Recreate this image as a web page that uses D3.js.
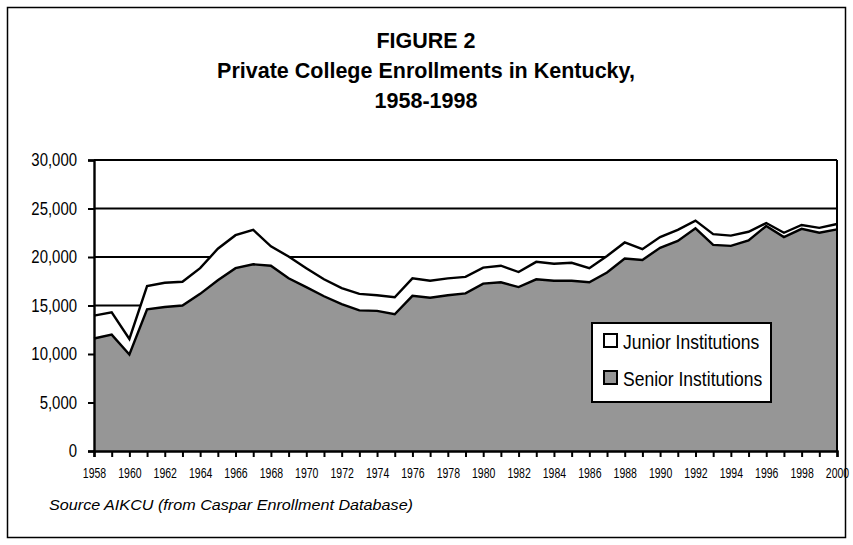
<!DOCTYPE html>
<html>
<head>
<meta charset="utf-8">
<script src="https://cdn.jsdelivr.net/npm/d3@7/dist/d3.min.js"></script>
<style>
  body { margin: 0; background: #ffffff; }
  svg text { fill: #000; }
</style>
</head>
<body>
<script>
// enrollment data
var years = [1958,1959,1960,1961,1962,1963,1964,1965,1966,1967,1968,1969,1970,1971,
             1972,1973,1974,1975,1976,1977,1978,1979,1980,1981,1982,1983,1984,1985,
             1986,1987,1988,1989,1990,1991,1992,1993,1994,1995,1996,1997,1998,1999,2000];
var senior = [11600,12000,9950,14600,14850,15000,16200,17600,18850,19250,19100,17800,16900,15950,
              15150,14500,14450,14100,16000,15800,16050,16250,17250,17400,16900,17700,17550,17550,
              17400,18400,19850,19700,20950,21650,22950,21250,21150,21700,23200,22050,22900,22500,22850];
var junior = [2350,2300,1600,2400,2500,2450,2650,3250,3400,3550,2000,2250,1950,1750,
              1650,1700,1600,1750,1800,1750,1750,1700,1650,1700,1550,1800,1750,1850,
              1450,1700,1650,1100,1100,1150,800,1100,1050,900,300,450,400,500,550];
var yTicks = [0,5000,10000,15000,20000,25000,30000];
var xLabels = [1958,1960,1962,1964,1966,1968,1970,1972,1974,1976,1978,1980,1982,1984,
               1986,1988,1990,1992,1994,1996,1998,2000];
var titleLines = ["FIGURE 2", "Private College Enrollments in Kentucky,", "1958-1998"];
var legendItems = [{label: "Junior Institutions", fill: "#ffffff"},
                   {label: "Senior Institutions", fill: "#969696"}];

var W = 853, H = 545;
var margin = {top: 160, right: 16, bottom: 94, left: 94};
var width = W - margin.left - margin.right,
    height = H - margin.top - margin.bottom;

var sans = "'Liberation Sans', Arial, sans-serif";

var rows = years.map(function(y, i) {
  return {year: y, senior: senior[i], junior: junior[i]};
});

var svg = d3.select("body").append("svg")
    .attr("width", W)
    .attr("height", H)
    .style("font-family", sans);

// outer frame
svg.append("rect")
    .attr("x", 7.5).attr("y", 7.5)
    .attr("width", W - 15).attr("height", H - 15)
    .style("fill", "none")
    .style("stroke", "#000")
    .style("stroke-width", 1.5);

// title
svg.append("g").selectAll("text")
    .data(titleLines)
  .enter().append("text")
    .attr("x", 426)
    .attr("y", function(d, i) { return 48 + i * 30; })
    .attr("text-anchor", "middle")
    .style("font-weight", "bold")
    .style("font-size", "21.5px")
    .text(function(d) { return d; });

var g = svg.append("g")
    .attr("transform", "translate(" + margin.left + "," + margin.top + ")");

var x = d3.scaleLinear().domain([1958, 2000]).range([0, width]);
var y = d3.scaleLinear().domain([0, 30000]).range([height, 0]);

// gridlines
g.selectAll(".grid")
    .data(yTicks.filter(function(d) { return d > 0; }))
  .enter().append("line")
    .attr("class", "grid")
    .attr("x1", 0).attr("x2", width)
    .attr("y1", function(d) { return y(d); })
    .attr("y2", function(d) { return y(d); })
    .style("stroke", "#000")
    .style("stroke-width", 2);

var stack = d3.stack().keys(["senior", "junior"]);
var series = stack(rows);

var area = d3.area()
    .x(function(d) { return x(d.data.year); })
    .y0(function(d) { return y(d[0]); })
    .y1(function(d) { return y(d[1]); });

var topLine = d3.line()
    .x(function(d) { return x(d.data.year); })
    .y(function(d) { return y(d[1]); });

var fills = ["#969696", "#ffffff"];

g.selectAll(".layer")
    .data(series)
  .enter().append("path")
    .attr("class", "layer")
    .attr("d", area)
    .style("fill", function(d, i) { return fills[i]; })
    .style("stroke", "none");

g.selectAll(".edge")
    .data(series)
  .enter().append("path")
    .attr("class", "edge")
    .attr("d", topLine)
    .style("fill", "none")
    .style("stroke", "#000")
    .style("stroke-width", 2.4);

// right frame edge
g.append("line")
    .attr("x1", width).attr("x2", width)
    .attr("y1", 0).attr("y2", height)
    .style("stroke", "#000")
    .style("stroke-width", 2);

// y axis (narrow labels: squeeze Liberation Sans horizontally)
var ySqueeze = 0.83;
var yAxis = g.append("g")
    .call(d3.axisLeft(y).tickValues(yTicks).tickSize(6).tickPadding(11)
      .tickFormat(d3.format(",")));
yAxis.select(".domain").style("stroke-width", 2.4);
yAxis.selectAll(".tick line").style("stroke-width", 2);
yAxis.selectAll("text")
    .attr("x", -17 / ySqueeze)
    .attr("transform", "scale(" + ySqueeze + ",1)")
    .style("font-size", "18px");

// x axis - tick every year, label every second year
var xSqueeze = 0.75;
var xAxis = g.append("g")
    .attr("transform", "translate(0," + height + ")")
    .call(d3.axisBottom(x).tickValues(years).tickSize(6).tickPadding(11)
      .tickFormat(function(d) { return xLabels.indexOf(d) >= 0 ? d : ""; }));
xAxis.select(".domain").style("stroke-width", 2.4);
xAxis.selectAll(".tick line").style("stroke-width", 2);
xAxis.selectAll("text")
    .attr("transform", "scale(" + xSqueeze + ",1)")
    .style("font-size", "14px");

// legend
var lSqueeze = 0.835;
var legend = svg.append("g").attr("transform", "translate(592,323)");
legend.append("rect")
    .attr("width", 179).attr("height", 79)
    .style("fill", "#fff")
    .style("stroke", "#000")
    .style("stroke-width", 2);
var li = legend.selectAll(".li")
    .data(legendItems)
  .enter().append("g")
    .attr("transform", function(d, i) { return "translate(12," + (11 + i * 37) + ")"; });
li.append("rect")
    .attr("width", 13).attr("height", 13)
    .style("fill", function(d) { return d.fill; })
    .style("stroke", "#000")
    .style("stroke-width", 2);
li.append("text")
    .attr("x", 19 / lSqueeze).attr("y", 14.5)
    .attr("transform", "scale(" + lSqueeze + ",1)")
    .style("font-size", "21px")
    .text(function(d) { return d.label; });

// source note
svg.append("text")
    .attr("x", 49).attr("y", 510)
    .attr("textLength", 364)
    .attr("lengthAdjust", "spacingAndGlyphs")
    .style("font-style", "italic")
    .style("font-size", "15px")
    .text("Source AIKCU (from Caspar Enrollment Database)");
</script>
</body>
</html>
